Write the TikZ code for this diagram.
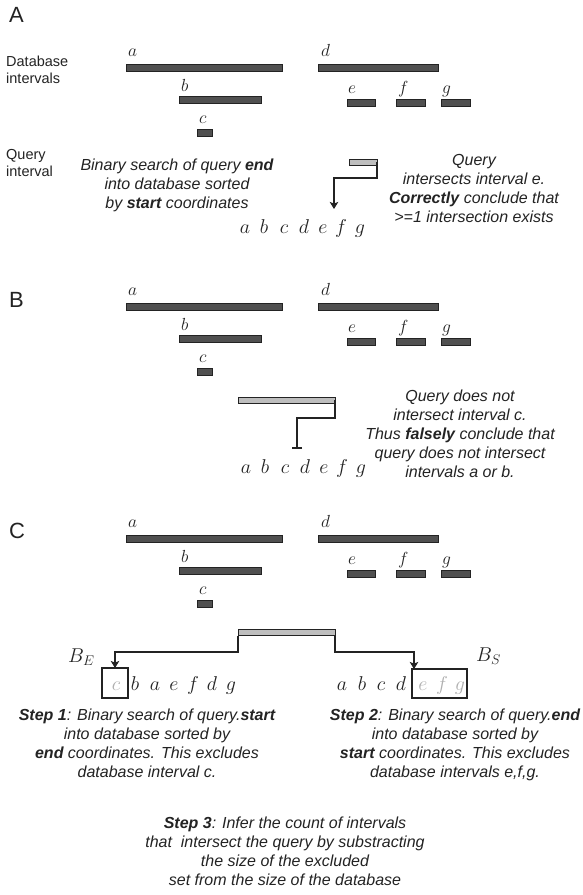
\documentclass[tikz,border=0pt]{standalone}
\usepackage{fix-cm}
\usepackage{fontspec}
\setmainfont{Liberation Sans}
\usetikzlibrary{arrows.meta}
\definecolor{barfill}{RGB}{80,80,80}
\definecolor{bardraw}{RGB}{35,35,35}
\definecolor{qfill}{RGB}{190,190,190}
\definecolor{ghost}{RGB}{175,175,175}
\definecolor{ink}{RGB}{35,35,35}
\tikzset{
 ivbar/.style={draw=bardraw, fill=barfill, line width=0.9pt, inner sep=0, outer sep=0, minimum height=7pt, anchor=north west},
 qbar/.style={draw=bardraw, fill=qfill, line width=0.9pt, inner sep=0, outer sep=0, minimum height=6.5pt, anchor=north west},
 ivlab/.style={font=\fontsize{17.5}{17.5}\selectfont, inner sep=0, anchor=base west, text=ink},
 rowl/.style={font=\fontsize{20}{20}\selectfont, inner sep=0, anchor=base, text=ink},
 ghostl/.style={rowl, text=ghost},
 conn/.style={draw=ink, line width=1.1pt},
 arr/.style={conn, -{Stealth[length=7pt, width=8.5pt, inset=1.5pt]}},
 tee/.style={conn, -{Bar[width=10pt, line width=2.4pt]}},
 capt/.style={font=\fontsize{16}{19}\selectfont\itshape, align=center, inner sep=0, anchor=north, text=ink},
 side/.style={font=\fontsize{14.5}{17}\selectfont, align=left, inner sep=0, anchor=north west, text=ink},
 panel/.style={font=\fontsize{22}{22}\selectfont, inner sep=0, anchor=base west, text=ink},
 exbox/.style={draw=ink, line width=1.1pt, inner sep=0, outer sep=0, anchor=north west},
 bsym/.style={anchor=base west, font=\fontsize{20}{20}\selectfont, inner sep=0, text=ink},
}
\newcommand{\dbpanel}[2]{%
 \node[ivbar, minimum width=156pt] (#1a) at (126,64+#2) {};
 \node[ivbar, minimum width=82pt] (#1b) at (179,96+#2) {};
 \node[ivbar, minimum width=15pt] (#1c) at (197,129+#2) {};
 \node[ivbar, minimum width=120pt] (#1d) at (318,64+#2) {};
 \node[ivbar, minimum width=28pt] (#1e) at (347,99+#2) {};
 \node[ivbar, minimum width=29pt] (#1f) at (396,99+#2) {};
 \node[ivbar, minimum width=29pt] (#1g) at (441,99+#2) {};
 \node[ivlab] (#1la) at (128,56.5+#2) {$a$};
 \node[ivlab] (#1lb) at (181,91+#2) {$b$};
 \node[ivlab] (#1lc) at (199,123+#2) {$c$};
 \node[ivlab] (#1ld) at (321,56.5+#2) {$d$};
 \node[ivlab] (#1le) at (348,93+#2) {$e$};
 \node[ivlab] (#1lf) at (398,93+#2) {$f$};
 \node[ivlab] (#1lg) at (442,93+#2) {$g$};
}
\begin{document}
\begin{tikzpicture}[x=1pt,y=-1pt]
\fill[white] (0,0) rectangle (583,895);
\useasboundingbox (0,0) rectangle (583,895);

% ---------- Panel A ----------
\node[panel] (pA) at (9,22) {A};
\node[side] (dbl) at (6,55.5) {Database\\intervals};
\node[side] (ql) at (6,149.5) {Query\\interval};
\dbpanel{A}{0}
\node[qbar, minimum width=28pt] (qA) at (349,159) {};
\node[capt] (tA1) at (177,158.4) {Binary search of query \textbf{end}\\into database sorted\\by \textbf{start} coordinates};
\node[capt] (tA2) at (474,154.4) {Query\\intersects interval e.\\\textbf{Correctly} conclude that\\>=1 intersection exists};
\foreach \l/\x [count=\i] in {a/245,b/264,c/284,d/304,e/323,f/341,g/360}
  \node[rowl] (rA\i) at (\x,233) {$\l$};
\coordinate (kA) at (334,178);
\coordinate (tipA) at (334,209);
\draw[arr] (qA.east) |- (kA) -- (tipA);

% ---------- Panel B ----------
\node[panel] (pB) at (9,307) {B};
\dbpanel{B}{239}
\node[qbar, minimum width=97pt] (qB) at (238,397) {};
\node[capt] (tB) at (460,389.4) {Query does not\\intersect interval c.\\Thus \textbf{falsely} conclude that\\query does not intersect\\intervals a or b.};
\foreach \l/\x [count=\i] in {a/246,b/265,c/285,d/305,e/324,f/342,g/361}
  \node[rowl] (rB\i) at (\x,473) {$\l$};
\coordinate (kB) at (297,418);
\coordinate (tipB) at (297,449);
\draw[tee] (qB.east) |- (kB) -- (tipB);

% ---------- Panel C ----------
\node[panel] (pC) at (9,538) {C};
\dbpanel{C}{471}
\node[qbar, minimum width=97pt] (qC) at (238,629) {};
\node[exbox, minimum width=26pt, minimum height=30pt] (boxc) at (102,668) {};
\node[exbox, minimum width=55pt, minimum height=29pt] (boxefg) at (412,669) {};
\node[ghostl] (rCl1) at (116,690) {$c$};
\foreach \l/\x [count=\i from 2] in {b/135,a/155,e/174,f/193,d/212,g/231}
  \node[rowl] (rCl\i) at (\x,690) {$\l$};
\foreach \l/\x [count=\i] in {a/342,b/362,c/381,d/401}
  \node[rowl] (rCr\i) at (\x,690) {$\l$};
\foreach \l/\x [count=\i from 5] in {e/423,f/442,g/460}
  \node[ghostl] (rCr\i) at (\x,690) {$\l$};
\node[bsym] (BE) at (68,662) {$B_{E}$};
\node[bsym] (BS) at (476,661) {$B_{S}$};
\coordinate (kCl) at (115,652);
\coordinate (kCr) at (414,652);
\coordinate (tipCr) at (414,669);
\draw[arr] (qC.south west) |- (kCl) -- (boxc.north);
\draw[arr] (qC.south east) |- (kCr) -- (tipCr);

\node[capt] (s1) at (147,708.4) {\textbf{Step 1}: Binary search of query.\textbf{start}\\into database sorted by\\\textbf{end} coordinates. This excludes\\database interval c.};
\node[capt] (s2) at (455,708.4) {\textbf{Step 2}: Binary search of query.\textbf{end}\\into database sorted by\\\textbf{start} coordinates. This excludes\\database intervals e,f,g.};
\node[capt] (s3) at (285,816.4) {\textbf{Step 3}: Infer the count of intervals\\that \ intersect the query by substracting\\the size of the excluded\\set from the size of the database};
\end{tikzpicture}
\end{document}
